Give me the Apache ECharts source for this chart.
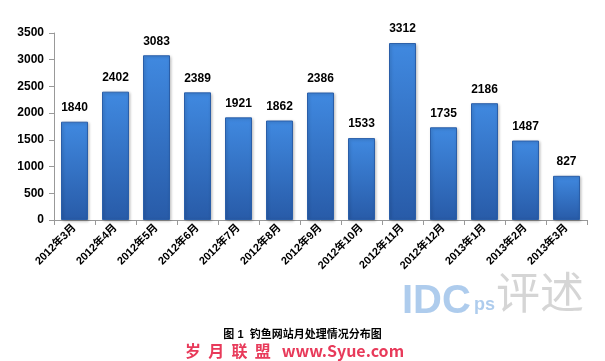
<!DOCTYPE html>
<html><head><meta charset="utf-8">
<script src="https://cdn.jsdelivr.net/npm/echarts@6/dist/echarts.min.js"></script>
<style>html,body{margin:0;padding:0;background:#fff}#c{width:605px;height:361px}</style>
</head><body><div id="c"></div>
<script>
var categories = ['2012年3月','2012年4月','2012年5月','2012年6月','2012年7月','2012年8月','2012年9月','2012年10月','2012年11月','2012年12月','2013年1月','2013年2月','2013年3月'];
var values = [1840,2402,3083,2389,1921,1862,2386,1533,3312,1735,2186,1487,827];
var yTicks = [0,500,1000,1500,2000,2500,3000,3500];
var titleText = '图 1  钓鱼网站月处理情况分布图';
var chart = echarts.init(document.getElementById('c'));
var font = 'Liberation Sans, Noto Sans CJK SC, sans-serif';
chart.setOption({
  animation:false,
  grid:{left:54,right:18,top:33,bottom:141},
  xAxis:{type:'category',data:categories,
    axisLine:{lineStyle:{color:'#999'}},
    axisTick:{show:true,lineStyle:{color:'#999'}},
    axisLabel:{rotate:45,interval:0,fontSize:11,fontWeight:'bold',color:'#000',fontFamily:font,margin:6}},
  yAxis:{type:'value',min:yTicks[0],max:yTicks[yTicks.length-1],interval:500,
    splitLine:{show:false},
    axisLine:{show:true,lineStyle:{color:'#999'}},
    axisTick:{show:true,lineStyle:{color:'#999'}},
    axisLabel:{fontSize:12,fontWeight:'bold',color:'#000',fontFamily:font,margin:10,formatter:function(v){return String(v);}}},
  series:[{type:'bar',data:values,barWidth:27,
    itemStyle:{color:new echarts.graphic.LinearGradient(0,0,0,1,[{offset:0,color:'#4089e0'},{offset:1,color:'#285ba8'}]),
      borderColor:'#2a5ea8',borderWidth:1,shadowColor:'rgba(0,0,0,0.25)',shadowBlur:3,shadowOffsetX:1,shadowOffsetY:1},
    label:{show:true,position:'top',distance:8,fontSize:12,fontWeight:'bold',color:'#000',fontFamily:font}}],
  graphic:[
    {type:'text',left:'center',top:329,style:{text:titleText,font:'bold 11px '+font,fill:'#000'}},
    {type:'text',left:185,top:343,style:{text:'岁  月  联  盟   www.Syue.com',font:'bold 16px Noto Sans CJK SC, sans-serif',fill:'#e83a5a'}},
    {type:'text',left:402,top:282,style:{text:'IDC',font:'bold 40px Liberation Sans, sans-serif',fill:'rgba(120,170,225,0.6)'}},
    {type:'text',left:474,top:296,style:{text:'ps',font:'bold 18px Liberation Sans, sans-serif',fill:'rgba(120,170,225,0.6)'}},
    {type:'text',left:496,top:270,style:{text:'评述',font:'44px Noto Sans CJK SC, sans-serif',fill:'rgba(150,150,150,0.4)'}}
  ]
});
</script></body></html>
